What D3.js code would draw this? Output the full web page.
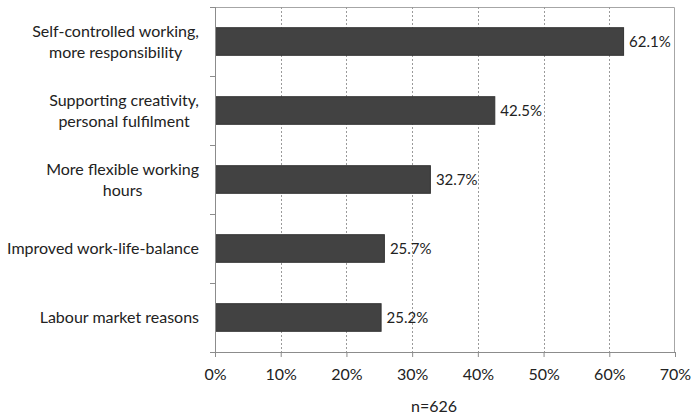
<!DOCTYPE html>
<html>
<head>
<meta charset="utf-8">
<script src="https://cdn.jsdelivr.net/npm/d3@7/dist/d3.min.js"></script>
<style>
  html, body { margin: 0; padding: 0; background: #fff; }
  svg { display: block; font-family: Lato, "Open Sans", sans-serif; }
</style>
</head>
<body>
<svg id="chart" width="691" height="415"></svg>
<script>
// Reasons for choosing the work arrangement (share of respondents)
const categories = [
  ["Self-controlled working,", "more responsibility"],
  ["Supporting creativity,", "personal fulfilment"],
  ["More flexible working", "hours"],
  ["Improved work-life-balance"],
  ["Labour market reasons"]
];
const values = [62.1, 42.5, 32.7, 25.7, 25.2];
const xTicks = [0, 10, 20, 30, 40, 50, 60, 70];
const axisTitle = "n=626";

const svg = d3.select("#chart");
const margin = { left: 215, right: 16, top: 7, bottom: 63 };
const W = 691, H = 415;
const plotW = W - margin.left - margin.right;
const plotH = H - margin.top - margin.bottom;

const x = d3.scaleLinear().domain([0, 70]).range([0, plotW]);
const y = d3.scaleBand().domain(d3.range(categories.length)).range([0, plotH]).paddingInner(0.6).paddingOuter(0.3);
const yBand = d3.scaleBand().domain(d3.range(categories.length)).range([0, plotH]);

const g = svg.append("g").attr("transform", `translate(${margin.left},${margin.top})`);

// Plot frame (top and right edges)
g.append("path")
  .attr("d", `M0,0.5H${plotW - 0.5}V${plotH}`)
  .attr("fill", "none").attr("stroke", "#a6a6a6").attr("stroke-width", 1);

// Dashed vertical gridlines
g.append("g").selectAll("line").data(xTicks.filter(t => t > 0 && t < 70)).join("line")
  .attr("x1", d => Math.round(x(d)) + 0.5).attr("x2", d => Math.round(x(d)) + 0.5)
  .attr("y1", 0).attr("y2", plotH)
  .attr("stroke", "#9a9a9a").attr("stroke-dasharray", "2,2");

// Bars
g.append("g").selectAll("rect").data(values).join("rect")
  .attr("x", 0.5)
  .attr("y", (d, i) => y(i))
  .attr("width", d => x(d))
  .attr("height", y.bandwidth())
  .attr("fill", "#424242")
  .attr("stroke", "#333").attr("stroke-width", 1);

// Value labels
g.append("g").selectAll("text").data(values).join("text")
  .attr("x", d => x(d) + 6)
  .attr("y", (d, i) => y(i) + y.bandwidth() / 2)
  .attr("dy", "0.35em")
  .attr("font-size", 15)
  .attr("fill", "#222")
  .text(d => d.toFixed(1) + "%");

// X axis
const xAxis = d3.axisBottom(x).tickValues(xTicks).tickSize(5).tickPadding(12)
  .tickFormat(d => d + "%");
const gx = g.append("g").attr("transform", `translate(0,${plotH})`).call(xAxis);
gx.select(".domain").attr("stroke", "#8c8c8c");
gx.selectAll(".tick line").attr("stroke", "#8c8c8c");
gx.selectAll(".tick text").attr("font-size", 16).attr("fill", "#222").attr("font-family", "Lato, 'Open Sans', sans-serif");

// Y axis line and category separator ticks
g.append("line").attr("x1", 0.5).attr("x2", 0.5).attr("y1", 0).attr("y2", plotH + 5).attr("stroke", "#8c8c8c");
g.append("g").selectAll("line").data(d3.range(categories.length + 1)).join("line")
  .attr("x1", -5).attr("x2", 0)
  .attr("y1", d => Math.round(d === categories.length ? plotH : yBand(d)) + 0.5)
  .attr("y2", d => Math.round(d === categories.length ? plotH : yBand(d)) + 0.5)
  .attr("stroke", "#8c8c8c");

// Category labels: lines centred within a right-aligned block
const labelRight = -16;
const lineH = 21;
categories.forEach((lines, i) => {
  const cy = y(i) + y.bandwidth() / 2;
  const t = g.append("text").attr("font-size", 16).attr("fill", "#222").attr("text-anchor", "middle");
  const spans = lines.map((ln, k) => t.append("tspan").text(ln)
    .attr("y", cy + (k - (lines.length - 1) / 2) * lineH).attr("dy", "0.35em"));
  const widths = spans.map(s => s.node().getComputedTextLength());
  const maxW = d3.max(widths);
  spans.forEach(s => s.attr("x", labelRight - maxW / 2));
});

// Axis title
svg.append("text")
  .attr("x", margin.left + plotW / 2 - 11)
  .attr("y", 406).attr("dy", "0.35em")
  .attr("text-anchor", "middle").attr("font-size", 16).attr("fill", "#222")
  .text(axisTitle);
</script>
</body>
</html>
